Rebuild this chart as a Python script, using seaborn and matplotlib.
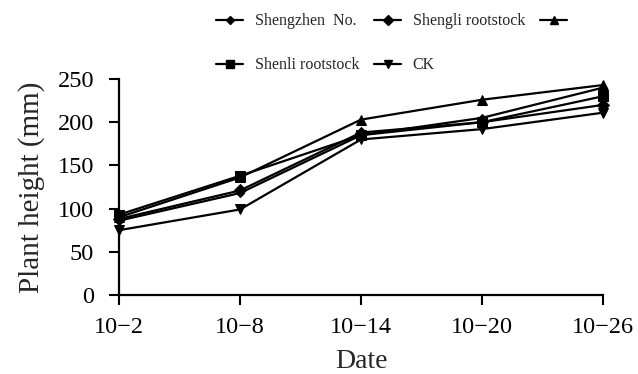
import numpy as np
import pandas as pd
import seaborn as sns
import matplotlib.pyplot as plt
from matplotlib.lines import Line2D

# dates of measurement (x categories)
dates = ['10−2', '10−8', '10−14', '10−20', '10−26']

# plant height (mm)
shengzhen = [86, 118, 185, 205, 240]
shengli = [88, 121, 188, 200, 220]
unnamed = [90, 136, 203, 226, 243]
shenli = [93, 138, 185, 200, 230]
ck = [75, 99, 180, 192, 211]

series_names = ['Shengzhen  No.', 'Shengli rootstock', '', 'Shenli rootstock', 'CK']
series_vals = [shengzhen, shengli, unnamed, shenli, ck]
markers = ['D', 'D', '^', 's', 'v']
msizes = [4.5, 6, 7, 6.5, 7]

sns.set_style('ticks')
plt.rcParams['font.family'] = ['Liberation Serif', 'DejaVu Serif']

fig = plt.figure(figsize=(6.38, 3.74), dpi=100)
ax = fig.add_axes([119/638, 1 - 295/374, (603 - 119)/638, (295 - 79)/374])

xpos = np.arange(len(dates))
handles = []
for name, vals, mk, ms in zip(series_names, series_vals, markers, msizes):
    df = pd.DataFrame({'x': xpos, 'y': vals})
    sns.lineplot(data=df, x='x', y='y', ax=ax, color='black', linewidth=1.6,
                 marker=mk, markersize=ms, markeredgecolor='black', sort=False,
                 clip_on=False)
    handles.append(Line2D([], [], color='black', linewidth=1.6, marker=mk,
                          markersize=ms * 0.85))

ax.set_xlim(0, 4)
ax.set_ylim(0, 250)
ax.set_xticks(xpos)
ax.set_xticklabels(dates)
ax.set_yticks([0, 50, 100, 150, 200, 250])
ax.tick_params(axis='both', direction='out', length=7, width=1.5, labelsize=17.5,
               colors='black')
ax.tick_params(axis='x', pad=9)
ax.tick_params(axis='y', pad=11)
for s in ['top', 'right']:
    ax.spines[s].set_visible(False)
for s in ['left', 'bottom']:
    ax.spines[s].set_linewidth(1.6)
    ax.spines[s].set_color('black')

ax.set_xlabel('Date', fontsize=20, labelpad=8)
ax.set_ylabel('Plant height (mm)', fontsize=21, labelpad=9)

# legend laid out row-wise in 3 columns
order = [0, 3, 1, 4, 2]
fig.legend([handles[i] for i in order], [series_names[i] for i in order],
           loc='upper left', bbox_to_anchor=(205/638, 1 - 2/374), ncol=3,
           frameon=False, fontsize=11.5, handlelength=1.7, handletextpad=0.7,
           columnspacing=0.95, labelspacing=1.75, borderpad=0.2)

fig.savefig('out.png', dpi=100)
